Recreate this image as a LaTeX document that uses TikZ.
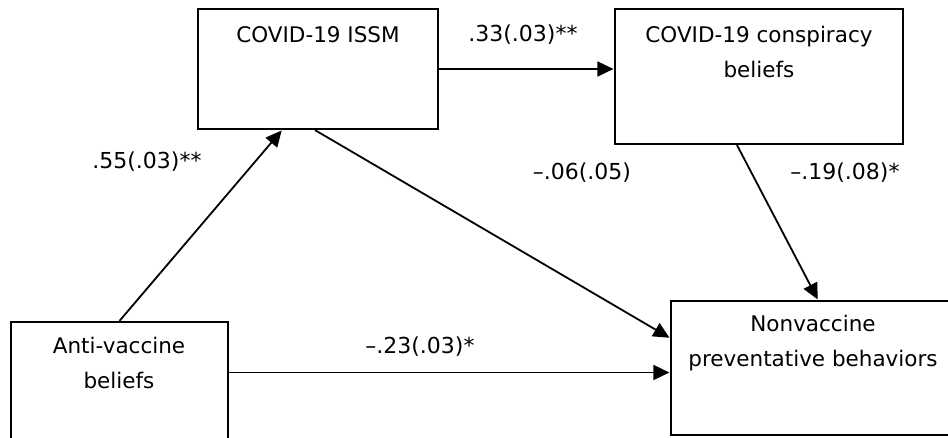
\documentclass[tikz,border=0pt]{standalone}
\usepackage{fontspec}
\setmainfont{DejaVu Sans}
\usetikzlibrary{arrows.meta}
\tikzset{
  boxnode/.style={draw=black, line width=2.2pt, rectangle, inner sep=0pt},
  boxtext/.style={align=center, inner sep=0pt, font=\fontsize{21.5}{34.5}\selectfont},
  coeff/.style={inner sep=0pt, font=\fontsize{22}{26}\selectfont},
  link/.style={draw=black, line width=1.8pt, -{Triangle[length=16pt,width=15pt]}, shorten >=0.5pt}
}
\begin{document}
\begin{tikzpicture}[x=1pt, y=-1pt]
  \useasboundingbox (0,0) rectangle (948,438);
  \clip (0,0) rectangle (948,438);

  % variable boxes
  \node[boxnode, minimum width=240pt, minimum height=120pt] (issm)  at (318,69)    {};
  \node[boxnode, minimum width=288pt, minimum height=135pt] (consp) at (759,76.5)  {};
  \node[boxnode, minimum width=217pt, minimum height=124pt] (anti)  at (119.5,384) {};
  \node[boxnode, minimum width=284pt, minimum height=134pt] (nonvac) at (813,368)  {};

  % box captions
  \node[boxtext] (issmtxt)   at (318,35)  {COVID-19 ISSM};
  \node[boxtext] (consptxt)  at (759,52)  {COVID-19 conspiracy\\beliefs};
  \node[boxtext] (antitxt)   at (119,363) {Anti-vaccine\\beliefs};
  \node[boxtext] (nonvactxt) at (813,343) {Nonvaccine\\preventative behaviors};

  % structural paths
  \coordinate (antiout) at ([yshift=11.5pt]anti.east);
  \draw[link] (anti.north) -- ([xshift=-36pt]issm.south);
  \draw[link] (issm.east) -- (consp.west |- issm.east);
  \draw[link] ([xshift=-3pt]issm.south) -- ([yshift=30pt]nonvac.west);
  \draw[link] ([xshift=-22pt]consp.south) -- ([xshift=5pt]nonvac.north);
  \draw[link] (antiout) -- (nonvac.west |- antiout);

  % path coefficients
  \node[coeff] (c1) at (523,35)  {.33(.03)**};
  \node[coeff] (c2) at (147,162) {.55(.03)**};
  \node[coeff] (c3) at (582,173) {–.06(.05)};
  \node[coeff] (c4) at (845,173) {–.19(.08)*};
  \node[coeff] (c5) at (420,347) {–.23(.03)*};
\end{tikzpicture}
\end{document}
